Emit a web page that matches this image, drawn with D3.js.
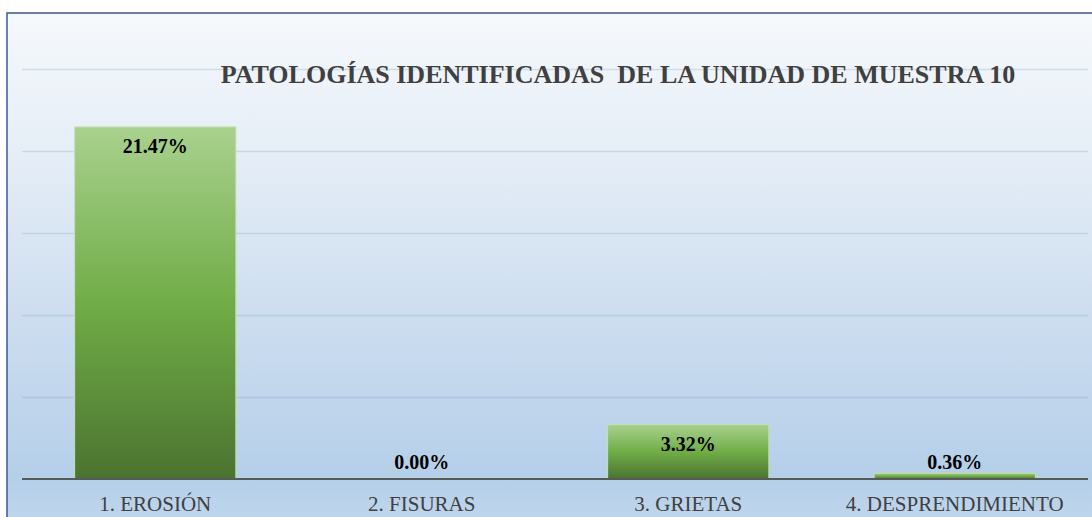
<!DOCTYPE html>
<html>
<head>
<meta charset="utf-8">
<script src="https://cdn.jsdelivr.net/npm/d3@7"></script>
<style>
  html, body { margin: 0; padding: 0; background: #ffffff; }
  svg { display: block; }
  svg text { font-family: "Liberation Serif", "Times New Roman", "DejaVu Serif", serif; }
</style>
</head>
<body>
<svg id="chart" width="1092" height="517"></svg>
<script>
// Chart data
const categories = ["1. EROSIÓN", "2. FISURAS", "3. GRIETAS", "4. DESPRENDIMIENTO"];
const values = [21.47, 0.00, 3.32, 0.36];
const yTicks = [0, 5, 10, 15, 20, 25];
const title = "PATOLOGÍAS IDENTIFICADAS\u00a0 DE LA UNIDAD DE MUESTRA 10";

const W = 1092, H = 517;
const plot = { left: 22, right: 1088, top: 69, bottom: 479 };
const serif = '"Liberation Serif", "Times New Roman", "DejaVu Serif", serif';

const svg = d3.select("#chart");
const defs = svg.append("defs");

// Background gradient of the chart area
const bg = defs.append("linearGradient").attr("id", "bgGrad")
  .attr("x1", 0).attr("y1", 0).attr("x2", 0).attr("y2", 1);
[[0, "#f6f9fc"], [0.3, "#e3ecf6"], [0.6, "#cbdcef"], [0.88, "#b5cfe9"], [1, "#c3d9ee"]]
  .forEach(([o, c]) => bg.append("stop").attr("offset", o).attr("stop-color", c));

// Bar fill gradient: light green at the top, dark green at the base
const bar = defs.append("linearGradient").attr("id", "barGrad")
  .attr("x1", 0).attr("y1", 0).attr("x2", 0).attr("y2", 1);
[[0, "#a9d18e"], [0.5, "#70ad47"], [1, "#4b7330"]]
  .forEach(([o, c]) => bar.append("stop").attr("offset", o).attr("stop-color", c));

svg.append("rect")
  .attr("x", 7).attr("y", 13).attr("width", W + 10).attr("height", H + 10)
  .attr("fill", "url(#bgGrad)")
  .attr("stroke", "#3a5b8e").attr("stroke-width", 1.5);

const x = d3.scaleBand()
  .domain(categories)
  .range([plot.left, plot.right])
  .paddingInner(0.395)
  .paddingOuter(0.1975);

const y = d3.scaleLinear()
  .domain([0, 25])
  .range([plot.bottom, plot.top]);

// Horizontal gridlines
const grid = svg.append("g")
  .attr("transform", `translate(${plot.left},0)`)
  .call(d3.axisLeft(y).tickValues(yTicks.slice(1))
    .tickSize(-(plot.right - plot.left)).tickFormat(""));
grid.select(".domain").remove();
grid.selectAll(".tick line")
  .attr("stroke", "#7f9fc2").attr("stroke-opacity", 0.28).attr("stroke-width", 1.5);

// Title
svg.append("text")
  .attr("x", 618).attr("y", 83)
  .attr("text-anchor", "middle")
  .style("font-family", serif).attr("font-weight", "bold")
  .attr("font-size", 26).attr("fill", "#404040")
  .text(title);

// Bars
svg.append("g").selectAll("rect")
  .data(values)
  .join("rect")
  .attr("x", (d, i) => x(categories[i]))
  .attr("y", d => y(d))
  .attr("width", x.bandwidth())
  .attr("height", d => y(0) - y(d))
  .attr("fill", "url(#barGrad)")
  .attr("stroke", d => d > 0 ? "#c6e0b4" : "none")
  .attr("stroke-width", 1);

// Category axis
const xAxis = svg.append("g")
  .attr("transform", `translate(0,${plot.bottom})`)
  .call(d3.axisBottom(x).tickSize(0).tickPadding(0));
xAxis.attr("font-family", null);
xAxis.select(".domain")
  .attr("stroke", "#595959").attr("stroke-width", 2)
  .attr("d", `M${plot.left},0H${plot.right}`);
xAxis.selectAll(".tick text")
  .attr("y", 32).attr("dy", 0)
  .style("font-family", serif).attr("font-size", 21)
  .attr("fill", "#404040");

// Value labels: inside the top of tall bars, above short ones
svg.append("g").selectAll("text")
  .data(values)
  .join("text")
  .attr("x", (d, i) => x(categories[i]) + x.bandwidth() / 2)
  .attr("y", d => {
    const top = y(d);
    return (y(0) - top) > 30 ? top + 26 : Math.min(top - 3, y(0) - 10);
  })
  .attr("text-anchor", "middle")
  .style("font-family", serif).attr("font-weight", "bold")
  .attr("font-size", 20).attr("fill", "#000000")
  .text(d => d.toFixed(2) + "%");
</script>
</body>
</html>
